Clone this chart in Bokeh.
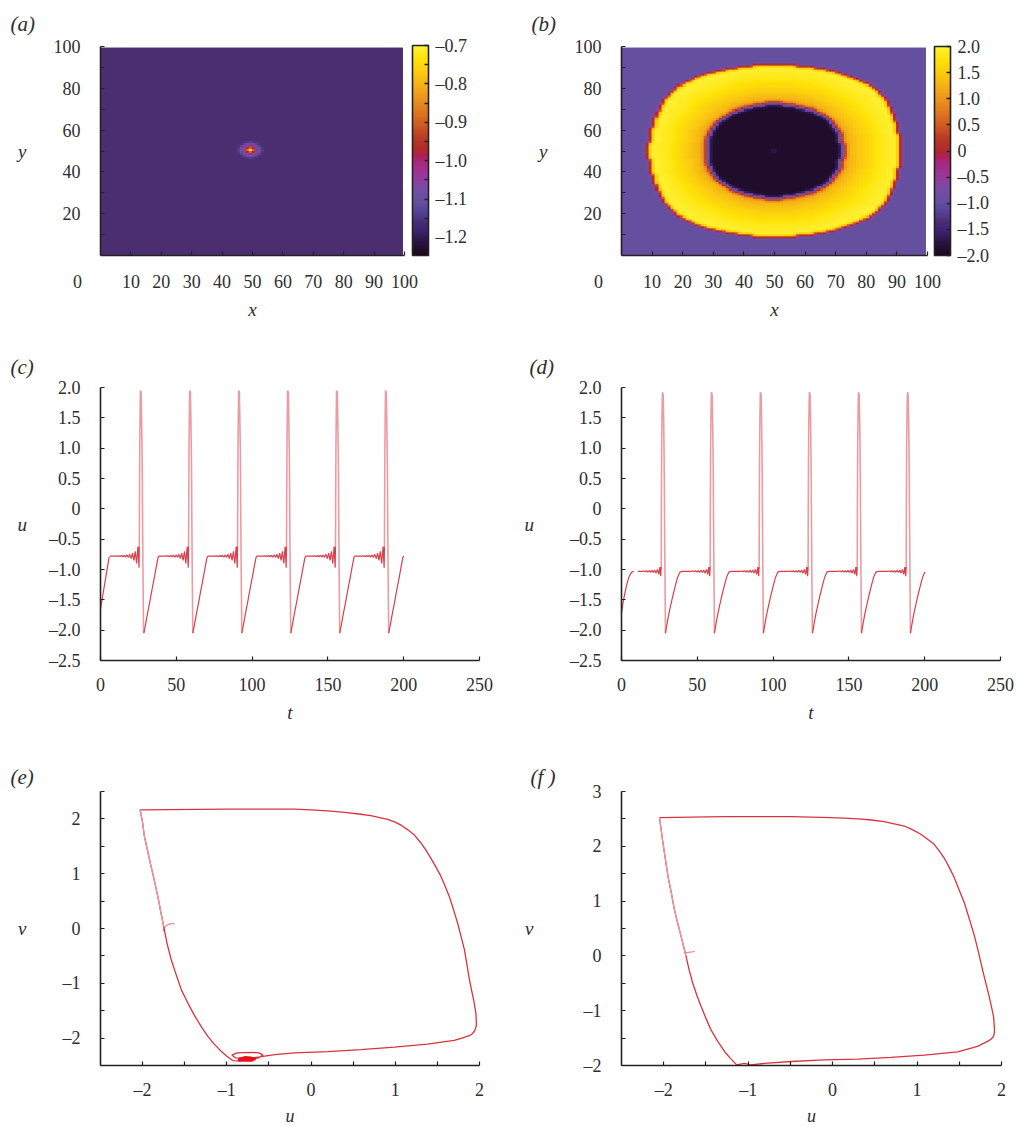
import numpy as np
from bokeh.plotting import figure
from bokeh.layouts import column, row
from bokeh.models import AllLabels, ColorBar, FixedTicker, Label, LinearColorMapper
from bokeh.embed import file_html
from bokeh.resources import INLINE

FONT = "Liberation Serif"
TXT = "#2e2e2e"
AXC = "#222222"

# ---------- data ----------
# panel (a): field is constant apart from a small spot
a_background = -1.159
a_spot = [
    [-1.159, -1.159, -1.155, -1.15, -1.14, -1.15, -1.155, -1.159, -1.159],
    [-1.159, -1.155, -1.13, -1.10, -1.09, -1.10, -1.13, -1.155, -1.159],
    [-1.155, -1.13, -1.09, -1.05, -1.02, -1.05, -1.09, -1.13, -1.155],
    [-1.15, -1.10, -1.05, -0.97, -0.90, -0.97, -1.05, -1.10, -1.15],
    [-1.14, -1.09, -1.02, -0.90, -0.72, -0.90, -1.02, -1.09, -1.14],
    [-1.15, -1.10, -1.05, -0.97, -0.90, -0.97, -1.05, -1.10, -1.15],
    [-1.155, -1.13, -1.09, -1.05, -1.02, -1.05, -1.09, -1.13, -1.155],
    [-1.159, -1.155, -1.13, -1.10, -1.09, -1.10, -1.13, -1.155, -1.159],
    [-1.159, -1.159, -1.155, -1.15, -1.14, -1.15, -1.155, -1.159, -1.159],
]
# panel (b): half width of the ring's outer and inner edge per row away from the centre
b_outer_halfwidth = [41.8, 41.8, 41.7, 41.6, 41.5, 41.4, 41.3, 41.1, 41.0, 40.8, 40.6, 40.5, 40.3, 40.1,
                     39.9, 39.6, 39.4, 39.1, 38.8, 38.5, 38.2, 37.9, 37.5, 37.1, 36.6, 36.1, 35.5, 34.9,
                     34.2, 33.4, 32.6, 31.6, 30.4, 29.1, 27.6, 26.0, 24.1, 22.0, 19.5, 16.5, 12.5, 7.0]
b_inner_halfwidth = [22.4, 22.4, 22.3, 22.3, 22.1, 22.0, 21.8, 21.5, 21.2, 20.9, 20.5, 20.0, 19.5, 18.9,
                     18.2, 17.4, 16.5, 15.4, 14.0, 12.3, 10.0, 6.8, 3.0]
b_background = -1.0
b_core = -1.9
b_ring_levels = [1.1, 1.18, 1.25, 1.32, 1.38, 1.44, 1.5, 1.55, 1.6, 1.65, 1.7, 1.75, 1.8, 1.85,
                 1.88, 1.92, 1.95, 1.96, 1.96, 1.94, 1.88]

# panels (c), (d): start of the record, one repeating cycle (time from a minimum), minima
c_start_t = [0, 1, 2, 3, 4, 5, 5.7]
c_start_u = [-1.65, -1.5, -1.35, -1.2, -1.05, -0.9, -0.79]
c_cycle_t = [0, 1, 2, 3, 4, 5, 6, 7, 8, 9, 9.4, 10, 12, 14, 16, 16.9, 17.8, 18.7, 19.6, 20.5, 21.4, 22.3,
             23.2, 24.1, 25, 25.9, 26.8, 27.7, 28.6, 29.3, 29.5]
c_cycle_u = [-2.05, -1.92, -1.78, -1.65, -1.52, -1.38, -1.25, -1.12, -0.98, -0.85, -0.8, -0.78, -0.78, -0.78,
             -0.775, -0.785, -0.77, -0.79, -0.765, -0.795, -0.76, -0.8, -0.75, -0.82, -0.73, -0.85, -0.7,
             -0.9, -0.62, -0.97, -0.62]
c_spike_t = [29.5, 29.6, 29.8, 30.0, 30.2, 30.7, 31.0, 31.3, 31.5, 31.6, 31.9, 32.3]
c_spike_u = [-0.62, 0.0, 1.0, 1.5, 1.95, 1.92, 1.5, 1.0, 0.5, 0.0, -1.0, -2.05]
c_minima = [-3.9, 28.6, 60.9, 93.2, 125.5, 157.8, 190.1]

d_start_t = [0, 1, 2, 3, 4, 5, 6, 7, 8]
d_start_u = [-1.72, -1.55, -1.42, -1.3, -1.2, -1.12, -1.07, -1.04, -1.03]
d_cycle_t = [0, 1, 2, 3, 4, 5, 6, 7, 8, 9, 9.7, 11, 14, 17, 18, 18.9, 19.8, 20.7, 21.6, 22.5, 23.4, 24.3,
             25.2, 26.1, 27, 27.9, 28.6, 29.2, 29.5]
d_cycle_u = [-2.05, -1.9, -1.76, -1.64, -1.53, -1.42, -1.32, -1.22, -1.13, -1.07, -1.04, -1.03, -1.03, -1.03,
             -1.025, -1.035, -1.022, -1.04, -1.02, -1.045, -1.015, -1.05, -1.01, -1.06, -1.0, -1.08, -0.96,
             -1.11, -0.95]
d_spike_t = [29.5, 29.6, 29.8, 30.0, 30.3, 30.8, 31.1, 31.35, 31.55, 31.65, 31.95, 32.3]
d_spike_u = [-0.95, 0.0, 1.0, 1.5, 1.92, 1.88, 1.5, 1.0, 0.5, 0.0, -1.0, -2.05]
d_minima = [-3.3, 29.0, 61.3, 93.6, 126.0, 158.3, 190.6]

# panels (e), (f): phase portraits
e_stub_u = [-1.62, -1.68, -1.73, -1.76]
e_stub_v = [0.09, 0.085, 0.04, -0.05]
e_u = [-2.03, -2.0, -1.98, -1.94, -1.9, -1.86, -1.82, -1.785, -1.75, -1.71, -1.66, -1.6, -1.54, -1.46, -1.38, -1.3,
       -1.225, -1.15, -1.067, -1.0, -0.93, -0.84, -0.72, -0.62, -0.57, -0.62, -0.7, -0.88, -0.94, -0.9, -0.75,
       -0.57, -0.43, -0.2, 0.2, 0.59, 0.99, 1.38, 1.7, 1.79, 1.877, 1.915, 1.937, 1.955, 1.964, 1.957, 1.93, 1.905,
       1.88, 1.85, 1.82, 1.78, 1.74, 1.69, 1.64, 1.59, 1.54, 1.48, 1.42, 1.36, 1.3, 1.23, 1.15, 1.07, 0.99, 0.91,
       0.83, 0.71, 0.59, 0.4, 0.2, 0.0, -0.2, -0.99, -2.03]
e_v = [2.165, 1.93, 1.69, 1.41, 1.14, 0.87, 0.59, 0.31, 0.04, -0.27, -0.57, -0.85, -1.12, -1.37, -1.6, -1.8,
       -1.97, -2.11, -2.24, -2.33, -2.41, -2.415, -2.385, -2.36, -2.31, -2.27, -2.26, -2.27, -2.31, -2.36, -2.37,
       -2.335, -2.3, -2.27, -2.245, -2.21, -2.165, -2.11, -2.04, -2.0, -1.957, -1.92, -1.88, -1.82, -1.756, -1.54,
       -1.3, -1.12, -0.93, -0.65, -0.38, -0.14, 0.1, 0.35, 0.59, 0.78, 0.96, 1.13, 1.29, 1.44, 1.57, 1.7, 1.8,
       1.885, 1.945, 1.99, 2.02, 2.06, 2.085, 2.12, 2.146, 2.165, 2.177, 2.177, 2.165]
e_blob_u = [-0.87, -0.74, -0.66, -0.72, -0.84, -0.86, -0.7, -0.67, -0.78, -0.85, -0.8, -0.68]
e_blob_v = [-2.4, -2.41, -2.38, -2.36, -2.37, -2.41, -2.41, -2.37, -2.35, -2.38, -2.41, -2.39]
f_stub_u = [-1.63, -1.755]
f_stub_v = [0.08, 0.055]
f_u = [-2.05, -2.03, -2.01, -1.98, -1.95, -1.91, -1.874, -1.835, -1.795, -1.736, -1.7, -1.657, -1.61, -1.558, -1.5,
       -1.44, -1.36, -1.28, -1.21, -1.136, -1.045, -0.97, -0.81, -0.49, -0.1, 0.3, 0.69, 1.085, 1.48, 1.716, 1.78,
       1.834, 1.875, 1.905, 1.915, 1.917, 1.912, 1.905, 1.88, 1.854, 1.815, 1.775, 1.73, 1.68, 1.62, 1.56, 1.5,
       1.44, 1.38, 1.32, 1.26, 1.2, 1.125, 1.045, 0.95, 0.85, 0.73, 0.61, 0.46, 0.3, 0.14, -0.02, -0.49, -1.28, -2.05]
f_v = [2.524, 2.3, 2.07, 1.76, 1.457, 1.15, 0.848, 0.6, 0.36, -0.006, -0.25, -0.494, -0.71, -0.92, -1.14, -1.35,
       -1.56, -1.744, -1.87, -1.988, -1.963, -1.988, -1.963, -1.927, -1.896, -1.885, -1.85, -1.81, -1.75, -1.65,
       -1.6, -1.56, -1.52, -1.47, -1.41, -1.35, -1.22, -1.1, -0.92, -0.74, -0.5, -0.25, 0.05, 0.36, 0.67, 0.97, 1.2,
       1.43, 1.62, 1.79, 1.92, 2.04, 2.13, 2.22, 2.3, 2.37, 2.41, 2.45, 2.48, 2.5, 2.515, 2.524, 2.54, 2.54, 2.524]

# ticks and labels
grid_ticks = [10, 20, 30, 40, 50, 60, 70, 80, 90, 100]
grid_labels = ["10", "20", "30", "40", "50", "60", "70", "80", "90", "100"]
grid_y_ticks = [20, 40, 60, 80, 100]
grid_y_labels = ["20", "40", "60", "80", "100"]
grid_y_minor = [10, 30, 50, 70, 90]
a_bar_ticks = [-0.7, -0.8, -0.9, -1.0, -1.1, -1.2]
a_bar_labels = ["–0.7", "–0.8", "–0.9", "–1.0", "–1.1", "–1.2"]
a_bar_minor = [-0.75, -0.85, -0.95, -1.05, -1.15]
b_bar_ticks = [2.0, 1.5, 1.0, 0.5, 0.0, -0.5, -1.0, -1.5, -2.0]
b_bar_labels = ["2.0", "1.5", "1.0", "0.5", "0", "–0.5", "–1.0", "–1.5", "–2.0"]
ts_x_ticks = [0, 50, 100, 150, 200, 250]
ts_x_labels = ["0", "50", "100", "150", "200", "250"]
ts_y_ticks = [2.0, 1.5, 1.0, 0.5, 0.0, -0.5, -1.0, -1.5, -2.0, -2.5]
ts_y_labels = ["2.0", "1.5", "1.0", "0.5", "0", "–0.5", "–1.0", "–1.5", "–2.0", "–2.5"]
ph_x_ticks = [-2, -1, 0, 1, 2]
ph_x_labels = ["–2", "–1", "0", "1", "2"]
ph_x_minor = [-1.5, -0.5, 0.5, 1.5]
e_y_ticks = [-2, -1, 0, 1, 2]
e_y_labels = ["–2", "–1", "0", "1", "2"]
e_y_minor = [-2.5, -1.5, -0.5, 0.5, 1.5, 2.5]
f_y_ticks = [-2, -1, 0, 1, 2, 3]
f_y_labels = ["–2", "–1", "0", "1", "2", "3"]
f_y_minor = [-1.5, -0.5, 0.5, 1.5, 2.5]

# colour scale anchors
cmap_pos = [0, .06, .125, .16, .19, .25, .31, .375, .44, .48, .5, .56, .625, .69, .75, .81, .875, .94, 1]
cmap_hex = ["#1a0a1e", "#2a1440", "#3e2678", "#4b2e70", "#503c90", "#654f9f", "#7350a5", "#983a9d", "#a82a80",
            "#b02050", "#b02a2c", "#b83a28", "#d05c22", "#e07a20", "#eb9520", "#f5b018", "#fccc10", "#ffe408",
            "#fff23a"]


def build_palette(n=256):
    rgb = np.array([[int(h[i:i + 2], 16) for i in (1, 3, 5)] for h in cmap_hex], float)
    q = np.linspace(0, 1, n)
    chans = [np.interp(q, cmap_pos, rgb[:, k]) for k in range(3)]
    return ["#%02x%02x%02x" % (int(r), int(g), int(b)) for r, g, b in zip(*chans)]


PALETTE = build_palette()


def depth(mask, limit=60):
    out = np.zeros(mask.shape, int)
    cur = mask.copy()
    for k in range(1, limit):
        if not cur.any():
            break
        out[cur] = k
        pad = np.pad(cur, 1, constant_values=False)
        cur = cur & pad[:-2, 1:-1] & pad[2:, 1:-1] & pad[1:-1, :-2] & pad[1:-1, 2:]
    return out


def soften(g):
    """The reference is a slightly blurred scan of the field."""
    k = (0.2, 0.6, 0.2)
    p = np.pad(g, 1, mode="edge")
    h = k[0] * p[:, :-2] + k[1] * p[:, 1:-1] + k[2] * p[:, 2:]
    return k[0] * h[:-2, :] + k[1] * h[1:-1, :] + k[2] * h[2:, :]


def field_a():
    g = np.full((100, 100), a_background)
    g[46:55, 45:54] = np.array(a_spot)
    return g


def field_b():
    n = 100
    dx = np.abs((np.arange(n) + .5) * .995 - 50)
    rows = np.abs((np.arange(n) + .5) * .995 - 50).astype(int)
    outer = np.zeros((n, n), bool)
    inner = np.zeros((n, n), bool)
    for j, r in enumerate(rows):
        if r < len(b_outer_halfwidth):
            outer[j] = dx <= b_outer_halfwidth[r]
        if r < len(b_inner_halfwidth):
            inner[j] = dx <= b_inner_halfwidth[r]
    d_out = depth(outer)
    d_core = depth(inner)
    d_in = depth(~inner)
    g = np.full((n, n), b_background)
    ring = outer & ~inner
    frac = d_in[ring] / (d_in[ring] + d_out[ring])
    g[ring] = np.array(b_ring_levels)[(frac * 20).astype(int)]
    g[outer & (d_out == 1)] = -0.1
    g[ring & (d_in == 1)] = 0.5
    g[inner] = b_core
    g[inner & (d_core == 1)] = -0.9
    g = soften(g)
    g[49:51, 49:51] = -1.72
    return g


def style_axes(p, xt, xl, xminor, yt, yl, yminor, xname, yname, x_stand, y_stand, x_lab_stand, y_lab_stand):
    x = p.xaxis[0]
    y = p.yaxis[0]
    x.ticker = FixedTicker(ticks=xt, minor_ticks=xminor)
    y.ticker = FixedTicker(ticks=yt, minor_ticks=yminor)
    x.major_label_overrides = dict(zip(xt, xl))
    y.major_label_overrides = dict(zip(yt, yl))
    x.major_label_standoff = x_stand
    y.major_label_standoff = y_stand
    x.axis_label = xname
    y.axis_label = yname
    x.axis_label_standoff = x_lab_stand
    y.axis_label_standoff = y_lab_stand
    y.axis_label_orientation = "horizontal"
    for ax in (x, y):
        ax.axis_line_color = AXC
        ax.axis_line_width = 1.6
        ax.major_tick_line_color = AXC
        ax.minor_tick_line_color = AXC
        ax.major_tick_line_width = 1.2
        ax.minor_tick_line_width = 1.2
        ax.major_tick_in = 4
        ax.major_tick_out = 0
        ax.minor_tick_in = 4
        ax.minor_tick_out = 0
        ax.major_label_text_font = FONT
        ax.major_label_text_font_size = "18px"
        ax.major_label_text_color = TXT
        ax.axis_label_text_font = FONT
        ax.axis_label_text_font_style = "italic"
        ax.axis_label_text_font_size = "19px"
        ax.axis_label_text_color = TXT
    p.grid.visible = False
    p.outline_line_color = None


def base(xr, yr, fw, fh, left, top, right, bottom):
    return figure(width=left + fw + right, height=top + fh + bottom, x_range=xr, y_range=yr,
                  frame_width=fw, frame_height=fh, min_border_left=left, min_border_top=top,
                  min_border_right=right, min_border_bottom=bottom, toolbar_location=None,
                  output_backend="svg", background_fill_color="white")


def tag(p, text, corner, dx, dy):
    p.add_layout(Label(x=corner[0], y=corner[1], x_offset=dx, y_offset=dy, text=text, text_font=FONT,
                       text_font_style="italic", text_font_size="21px", text_color=TXT,
                       text_align="left", text_baseline="middle"), "above")


def zero_label(p, dx, dy):
    p.add_layout(Label(x=0, y=0, x_offset=dx, y_offset=dy, text="0", text_font=FONT, text_font_size="18px",
                       text_color=TXT, text_align="center", text_baseline="middle"), "below")


def heat(field, low, high, bar_ticks, bar_labels, bar_minor, left, fw, right, name, bar_gap, bar_h):
    p = base((0, 100), (0, 100), fw, 209, left, 46, right, 75)
    mapper = LinearColorMapper(palette=PALETTE, low=low, high=high)
    p.image(image=[field], x=0, y=0, dw=99.5, dh=99.5, color_mapper=mapper)
    style_axes(p, grid_ticks, grid_labels, [], grid_y_ticks, grid_y_labels, grid_y_minor, "x", "y", 19, 20, 8, 24)
    cb = ColorBar(color_mapper=mapper, location=(fw + bar_gap, 0), width=16, height=bar_h, padding=0, margin=0,
                  ticker=FixedTicker(ticks=bar_ticks, minor_ticks=bar_minor),
                  major_label_overrides=dict(zip(bar_ticks, bar_labels)), major_label_policy=AllLabels(),
                  major_tick_in=4, major_tick_out=0, minor_tick_in=4, minor_tick_out=0,
                  major_tick_line_color=AXC, minor_tick_line_color=AXC, major_tick_line_width=1.5,
                  minor_tick_line_width=1.5, bar_line_color=AXC, bar_line_width=1.6, label_standoff=7,
                  major_label_text_font=FONT, major_label_text_font_size="18px", major_label_text_color=TXT,
                  background_fill_alpha=0, border_line_color=None)
    p.add_layout(cb, "center")
    tag(p, name, (0, 100), -90, 23)
    zero_label(p, -23, -26)
    return p


def series_panel(start_t, start_u, cyc_t, cyc_u, spk_t, spk_u, minima, left, right, name, tagdx, stand):
    p = base((0, 250), (-2.5, 2.0), 379, 273, left, 52, right, 74)
    t_end = 201
    xs, ys, sx, sy = [list(start_t)], [list(start_u)], [], []
    for m in minima:
        tt = m + np.array(cyc_t)
        keep = (tt > start_t[-1]) & (tt <= t_end)
        if keep.any():
            xs.append(tt[keep].tolist())
            ys.append(np.array(cyc_u)[keep].tolist())
        ts = m + np.array(spk_t)
        if ts[0] > 0 and ts[-1] <= t_end:
            sx.append(ts.tolist())
            sy.append(list(spk_u))
    p.multi_line(sx, sy, line_color="#eb9ca3", line_width=1.6)
    p.multi_line(xs, ys, line_color="#d8404c", line_width=1.2)
    style_axes(p, ts_x_ticks, ts_x_labels, [], ts_y_ticks, ts_y_labels, [], "t", "u", 17, 20, 8, stand)
    tag(p, name, (0, 2.0), tagdx, 21)
    return p


def phase_panel(yr, u, v, su, sv, yt, yl, ym, left, fw, right, name, tagdx, stand, pale):
    xr = (-2.5, 2.0)
    p = base(xr, yr, fw, 274, left, 57, right, 61)
    p.line(su, sv, line_color="#e98a92", line_width=1.2)
    p.line(u, v, line_color="#d8343f", line_width=1.3)
    p.line(u[:pale], v[:pale], line_color="#ea9aa0", line_width=1.3)
    style_axes(p, ph_x_ticks, ph_x_labels, ph_x_minor, yt, yl, ym, "u", "v", 14, 20, 3, stand)
    p.xaxis[0].axis_label_text_font_size = "18px"
    tag(p, name, (xr[0], yr[1]), tagdx, 15)
    return p


pa = heat(field_a(), -1.247, -0.7, a_bar_ticks, a_bar_labels, a_bar_minor, 100, 304, 114, "(a)", 8, 210)
pb = heat(field_b(), -2.0, 2.0, b_bar_ticks, b_bar_labels, [], 103, 306, 91, "(b)", 7, 209)
pc = series_panel(c_start_t, c_start_u, c_cycle_t, c_cycle_u, c_spike_t, c_spike_u, c_minima, 100, 39, "(c)", -90, 19)
pd = series_panel(d_start_t, d_start_u, d_cycle_t, d_cycle_u, d_spike_t, d_spike_u, d_minima, 103, 18, "(d)", -92, 33)
pe = phase_panel((-2.5, 2.5), e_u, e_v, e_stub_u, e_stub_v, e_y_ticks, e_y_labels, e_y_minor,
                 100, 379, 39, "(e)", -90, 33, 9)
pe.line(e_blob_u, e_blob_v, line_color="#e8101c", line_width=2.5)
pf = phase_panel((-2.0, 3.0), f_u, f_v, f_stub_u, f_stub_v, f_y_ticks, f_y_labels, f_y_minor,
                 103, 380, 17, "(f )", -91, 47, 10)

layout = column(row(pa, pb, spacing=0), row(pc, pd, spacing=0), row(pe, pf, spacing=0), spacing=0)
open("out.html", "w").write(file_html(layout, INLINE))
